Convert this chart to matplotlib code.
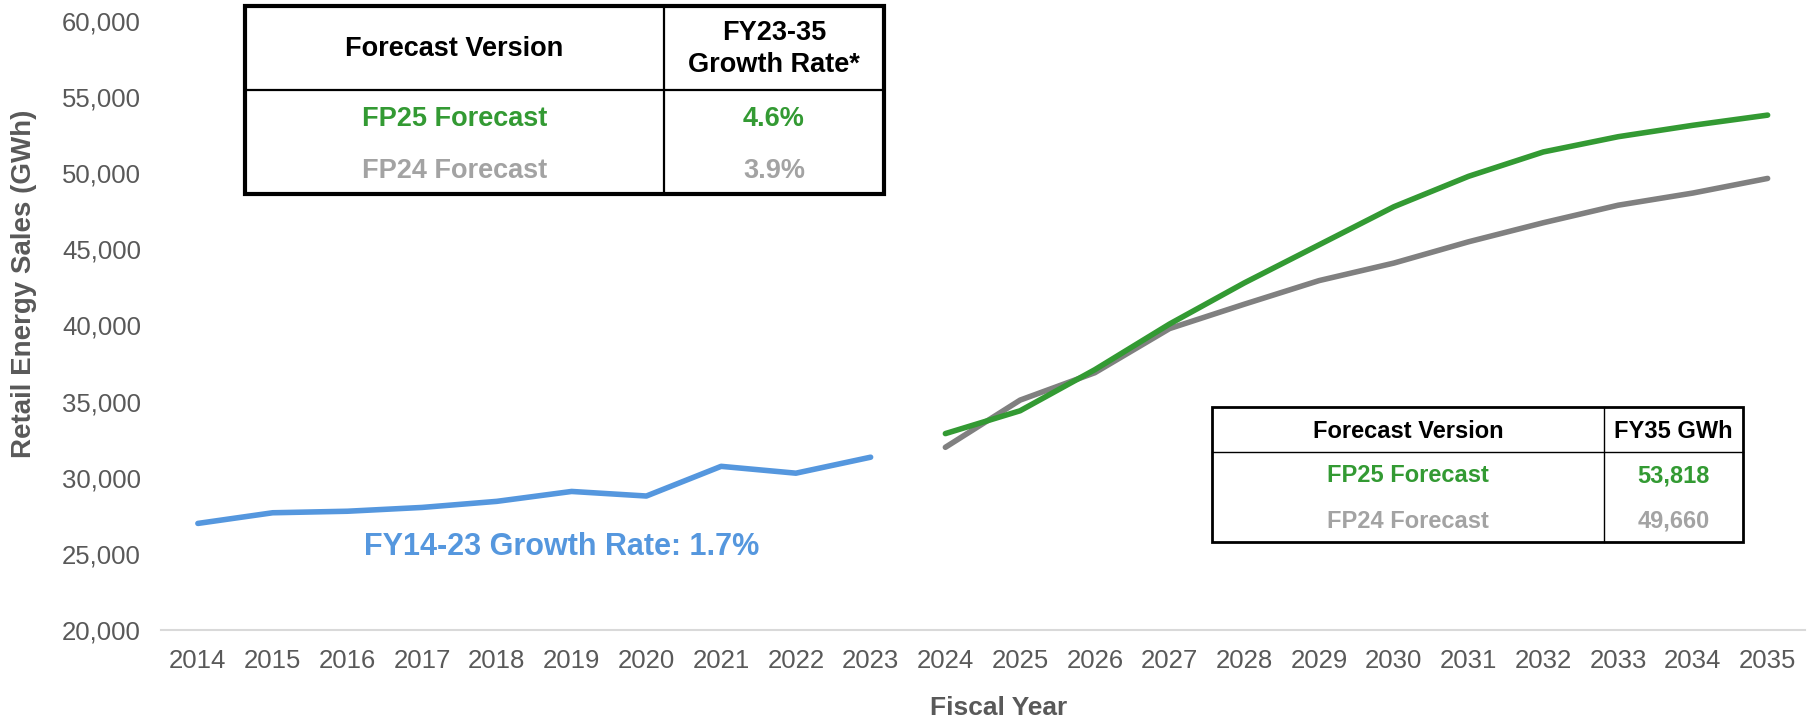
import matplotlib
matplotlib.use("Agg")
import matplotlib.pyplot as plt
from matplotlib.patches import Rectangle
from matplotlib.lines import Line2D

plt.rcParams['font.family'] = ['Liberation Sans', 'DejaVu Sans']

# ---------------- data ----------------
years = [str(y) for y in range(2014, 2036)]
hist_years = years[:10]
hist_sales = [27000, 27700, 27800, 28050, 28450, 29100, 28800, 30750, 30300, 31350]
fc_years = years[10:]
fp25 = [32900, 34400, 37100, 40100, 42800, 45300, 47800, 49800, 51400, 52400, 53150, 53818]
fp24 = [32000, 35100, 36900, 39800, 41400, 42950, 44100, 45500, 46750, 47900, 48700, 49660]

table1_header = ["Forecast Version", "FY23-35\nGrowth Rate*"]
table1_rows = [["FP25 Forecast", "4.6%"], ["FP24 Forecast", "3.9%"]]
table2_header = ["Forecast Version", "FY35 GWh"]
table2_rows = [["FP25 Forecast", "53,818"], ["FP24 Forecast", "49,660"]]
hist_label = "FY14-23 Growth Rate: 1.7%"

# ---------------- style ----------------
BLUE = "#5597DE"
GREEN = "#339A33"
GRAY_LINE = "#808080"
GRAY_TXT = "#A3A3A3"
TICK = "#595959"
row_colors = [GREEN, GRAY_TXT]

W, H = 1811, 725
fig = plt.figure(figsize=(W / 100, H / 100), dpi=100)

def fx(x):
    return x / W

def fy(y):
    return 1 - y / H

ax_l, ax_r, ax_b, ax_t = 160.5, 1805, 630, 21
ax = fig.add_axes([fx(ax_l), fy(ax_b), fx(ax_r - ax_l), (ax_b - ax_t) / H])

x_idx = {y: i for i, y in enumerate(years)}
ax.plot([x_idx[y] for y in hist_years], hist_sales, color=BLUE, lw=4, solid_capstyle='round', solid_joinstyle='round')
ax.plot([x_idx[y] for y in fc_years], fp24, color=GRAY_LINE, lw=4, solid_capstyle='round', solid_joinstyle='round')
ax.plot([x_idx[y] for y in fc_years], fp25, color=GREEN, lw=4, solid_capstyle='round', solid_joinstyle='round')

ax.set_xlim(-0.5, len(years) - 0.5)
ax.set_ylim(20000, 60000)
ax.set_xticks(range(len(years)))
ax.set_xticklabels(years)
ax.set_yticks(range(20000, 60001, 5000))
ax.set_yticklabels([f"{v:,}" for v in range(20000, 60001, 5000)])
ax.tick_params(axis='both', length=0, labelsize=18.5, colors=TICK)
ax.tick_params(axis='x', pad=14)
ax.tick_params(axis='y', pad=14)
for s in ['top', 'right', 'left']:
    ax.spines[s].set_visible(False)
ax.spines['bottom'].set_color('#D9D9D9')
ax.spines['bottom'].set_linewidth(1.5)

fig.text(fx(24), fy(284), "Retail Energy Sales (GWh)", rotation=90, ha='center', va='center',
         fontsize=20, fontweight='bold', color=TICK)
fig.text(fx(999), fy(708), "Fiscal Year", ha='center', va='center',
         fontsize=19, fontweight='bold', color=TICK)

ax.text(4.87, 25450, hist_label, ha='center', va='center', fontsize=22,
        fontweight='bold', color=BLUE)

# ---------------- tables ----------------
def draw_table(x0, x1, xdiv, y0, y1, yhdr, header, rows, hdr_y, row_ys, fs, outer_lw, inner_lw, hdr_ls=1.2):
    fig.add_artist(Rectangle((fx(x0), fy(y1)), fx(x1 - x0), (y1 - y0) / H,
                             transform=fig.transFigure, facecolor='white',
                             edgecolor='black', lw=outer_lw, zorder=5))
    fig.add_artist(Line2D([fx(xdiv), fx(xdiv)], [fy(y0), fy(y1)], transform=fig.transFigure,
                          color='black', lw=inner_lw, zorder=6))
    fig.add_artist(Line2D([fx(x0), fx(x1)], [fy(yhdr), fy(yhdr)], transform=fig.transFigure,
                          color='black', lw=inner_lw, zorder=6))
    c1 = (x0 + xdiv) / 2
    c2 = (xdiv + x1) / 2
    fig.text(fx(c1), fy(hdr_y), header[0], ha='center', va='center', fontsize=fs,
             fontweight='bold', color='black', zorder=7)
    fig.text(fx(c2), fy(hdr_y), header[1], ha='center', va='center', fontsize=fs,
             fontweight='bold', color='black', zorder=7, linespacing=hdr_ls, multialignment='center')
    for (name, val), ry, col in zip(rows, row_ys, row_colors):
        fig.text(fx(c1), fy(ry), name, ha='center', va='center', fontsize=fs,
                 fontweight='bold', color=col, zorder=7)
        fig.text(fx(c2), fy(ry), val, ha='center', va='center', fontsize=fs,
                 fontweight='bold', color=col, zorder=7)

draw_table(245, 884, 664, 6, 194, 90, table1_header, table1_rows, 49, [119, 171], 19.5, 3.0, 1.6, hdr_ls=1.3)
draw_table(1212, 1743, 1604, 407, 542, 452, table2_header, table2_rows, 431, [476, 521], 17, 2.0, 1.0)

fig.savefig("out.png", dpi=100, facecolor='white')
